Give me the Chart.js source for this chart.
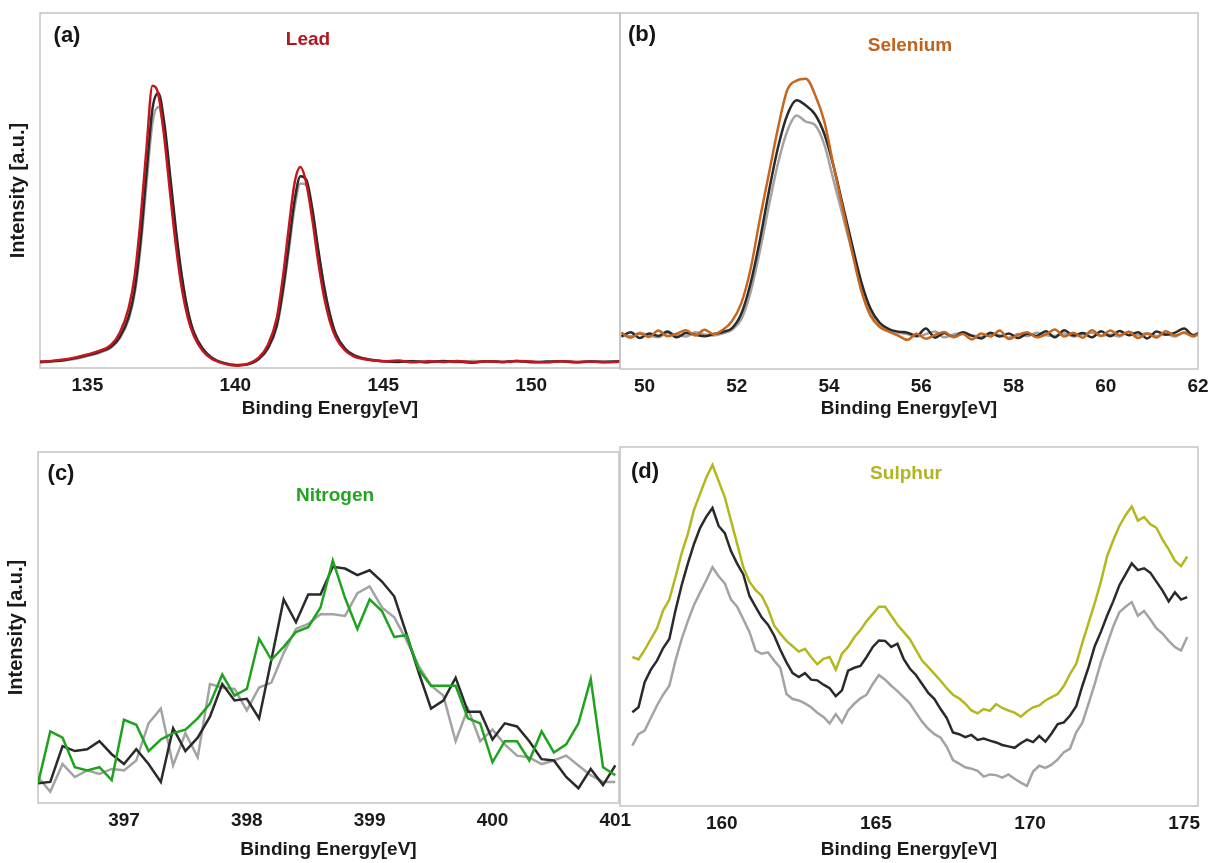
<!DOCTYPE html>
<html lang="en">
<head>
<meta charset="UTF-8">
<title>XPS core-level spectra</title>
<script src="https://cdn.jsdelivr.net/npm/chart.js"></script>
<style>
  html, body { margin: 0; padding: 0; background: #fff; overflow: hidden; }
  body { width: 1210px; height: 863px; position: relative; font-family: "Liberation Sans", Arial, sans-serif; }
  canvas { position: absolute; }
  .lbl { position: absolute; font-weight: bold; transform: translate(-50%, -50%); white-space: nowrap; }
</style>
</head>
<body>
<canvas id="chartA"></canvas>
<canvas id="chartB"></canvas>
<canvas id="chartC"></canvas>
<canvas id="chartD"></canvas>

<div class="lbl" style="left:67px;top:35px;font-size:22px;color:#151515">(a)</div>
<div class="lbl" style="left:308px;top:39px;font-size:19px;color:#b3151d">Lead</div>
<div class="lbl" style="left:642px;top:34px;font-size:22px;color:#151515">(b)</div>
<div class="lbl" style="left:910px;top:45px;font-size:19px;color:#c0621c">Selenium</div>
<div class="lbl" style="left:61px;top:473px;font-size:22px;color:#151515">(c)</div>
<div class="lbl" style="left:335px;top:495px;font-size:19px;color:#22a322">Nitrogen</div>
<div class="lbl" style="left:645px;top:471px;font-size:22px;color:#151515">(d)</div>
<div class="lbl" style="left:906px;top:473px;font-size:19px;color:#b0b622">Sulphur</div>

<script>
// --- (a) Lead ---
const leadX = [133.4, 133.8, 134.2, 134.6, 135.0, 135.4, 135.8, 136.1, 136.4, 136.6,
  136.8, 137.0, 137.2, 137.4, 137.6, 137.8, 138.0, 138.2, 138.4, 138.6,
  138.9, 139.2, 139.6, 140.0, 140.4, 140.8, 141.1, 141.4, 141.6, 141.8,
  142.0, 142.2, 142.4, 142.6, 142.8, 143.0, 143.2, 143.4, 143.7, 144.0,
  144.5, 145.0, 145.5, 146.0, 146.5, 147.0, 147.5, 148.0, 148.5, 149.0,
  149.5, 150.0, 150.5, 151.0, 151.5, 152.0, 152.5, 153.0];
const leadRed = [1.8, 2.0, 2.4, 3.0, 3.8, 4.8, 6.5, 10, 17, 26,
  42, 62, 79.5, 77, 65, 49, 34, 22, 14, 9,
  4.8, 2.6, 1.3, 0.7, 1.1, 3.0, 6.5, 14, 25, 39,
  52, 56.6, 52, 42, 30, 20, 13, 8.5, 5, 3.3,
  2.3, 1.9, 2.1, 1.6, 1.9, 1.7, 2.0, 1.6, 1.9, 1.7,
  2.0, 1.8, 1.6, 1.9, 1.7, 1.8, 1.6, 1.8];
const leadBlack = [1.7, 1.9, 2.2, 2.8, 3.6, 4.5, 6.0, 8.8, 14.5, 22,
  36, 55, 73, 77.5, 69, 54, 38.5, 25.5, 16, 10,
  5.4, 2.9, 1.4, 0.8, 1.0, 2.6, 5.6, 12, 21.5, 34,
  47, 54, 53, 45, 33.5, 23, 15, 9.5, 5.5, 3.6,
  2.4, 1.9, 1.7, 1.9, 1.6, 2.0, 1.8, 1.5, 1.9, 1.7,
  2.0, 1.6, 1.8, 1.9, 1.6, 1.8, 1.7, 1.9];
const leadGrey = [1.6, 1.8, 2.1, 2.6, 3.4, 4.3, 5.7, 8.4, 13.8, 21,
  34, 52, 69, 73.5, 66, 52, 37.5, 25, 16, 10,
  5.5, 3.0, 1.5, 0.9, 1.1, 2.5, 5.4, 11.5, 20.5, 32.5,
  45, 52, 51.5, 44, 33, 23, 15, 9.5, 5.6, 3.7,
  2.5, 2.0, 1.8, 2.0, 1.7, 1.9, 1.6, 2.0, 1.8, 1.7,
  1.9, 1.8, 1.6, 1.9, 1.7, 1.8, 1.9, 1.7];

// --- (b) Selenium ---
const seX = [49.5, 49.7, 49.9, 50.1, 50.3, 50.5, 50.7, 50.9, 51.1, 51.3,
  51.5, 51.7, 51.9, 52.1, 52.3, 52.5, 52.7, 52.9, 53.1, 53.3,
  53.5, 53.7, 53.9, 54.1, 54.3, 54.5, 54.7, 54.9, 55.1, 55.3,
  55.5, 55.7, 55.9, 56.1, 56.3, 56.5, 56.7, 56.9, 57.1, 57.3,
  57.5, 57.7, 57.9, 58.1, 58.3, 58.5, 58.7, 58.9, 59.1, 59.3,
  59.5, 59.7, 59.9, 60.1, 60.3, 60.5, 60.7, 60.9, 61.1, 61.3,
  61.5, 61.7, 61.9, 62.0];
const seOrange = [10.2, 8.8, 10.0, 9.0, 10.8, 9.2, 9.9, 10.9, 9.4, 11.0,
  9.8, 11, 13.5, 18.5, 28, 42, 55, 68, 78.5, 81,
  81.5, 77, 69.5, 57, 45, 33, 22, 15, 11.8, 10.5,
  9.4, 8.2, 9.9, 8.5, 9.6, 10.4, 8.9, 9.8, 8.3, 10.0,
  9.1, 10.8, 8.4, 9.6, 10.3, 8.9, 9.7, 11.1, 9.1, 10.2,
  8.8, 10.9, 9.3, 10.8, 9.5, 10.4, 8.7, 9.9, 8.8, 10.6,
  9.4, 10.2, 9.1, 9.8];
const seBlack = [9.1, 10.3, 8.7, 10.0, 9.3, 10.5, 8.9, 10.1, 9.6, 9.2,
  9.8, 10.4, 11.5, 15.5, 24, 36, 50, 62.5, 71.5, 75.5,
  74, 71.5, 66, 57, 46, 35, 24.5, 17, 13, 11.2,
  10.5, 10.2, 9.3, 11.4, 8.8, 10.1, 9.0, 10.3, 9.3, 8.6,
  10.2, 9.1, 10.0, 8.7, 9.9, 9.3, 10.6, 8.9, 10.9, 9.4,
  10.1, 8.9, 10.6, 9.2, 10.7, 9.5, 10.3, 8.6, 10.5, 9.6,
  10.2, 11.4, 9.4, 10.1];
const seGrey = [9.6, 9.2, 10.2, 9.5, 8.9, 10.1, 9.6, 9.1, 10.3, 9.7,
  9.4, 10.0, 11.0, 14, 21.5, 33, 46, 58, 67, 71.2,
  69.5, 68.5, 63, 53, 43, 33, 23.5, 16, 12.5, 10.8,
  10.2, 9.8, 9.1, 9.8, 10.5, 8.9, 9.7, 10.2, 9.5, 9.0,
  9.9, 9.5, 8.8, 9.8, 9.2, 10.2, 9.5, 9.3, 10.0, 9.1,
  9.7, 10.2, 9.3, 9.7, 9.1, 10.5, 9.5, 10.1, 9.3, 9.9,
  9.1, 10.3, 9.6, 9.8];

// --- (c) Nitrogen ---
const nX = [396.3, 396.4, 396.5, 396.6, 396.7, 396.8, 396.9, 397.0, 397.1, 397.2,
  397.3, 397.4, 397.5, 397.6, 397.7, 397.8, 397.9, 398.0, 398.1, 398.2,
  398.3, 398.4, 398.5, 398.6, 398.7, 398.8, 398.9, 399.0, 399.1, 399.2,
  399.3, 399.4, 399.5, 399.6, 399.7, 399.8, 399.9, 400.0, 400.1, 400.2,
  400.3, 400.4, 400.5, 400.6, 400.7, 400.8, 400.9, 401.0];
const nGreen = [5.6, 20.4, 18.6, 10.2, 9.3, 10.2, 6.5, 23.7, 22.3, 14.8,
  18.1, 19.9, 20.9, 24.1, 28.3, 36.6, 30.6, 32.5, 46.8, 40.8,
  44.5, 48.7, 50.1, 55.7, 69.1, 58.4, 49.6, 58.0, 54.7, 47.3,
  47.8, 38.0, 33.4, 33.4, 33.4, 24.1, 22.7, 11.6, 17.6, 17.6,
  12.1, 20.4, 14.4, 16.7, 22.7, 35.3, 10.2, 7.9];
const nBlack = [5.6, 6.0, 16.2, 14.8, 15.3, 17.6, 13.9, 11.1, 15.3, 11.1,
  6.0, 21.3, 14.8, 18.6, 24.6, 33.9, 29.2, 29.7, 24.1, 40.8,
  58.0, 51.5, 59.4, 59.4, 67.3, 66.8, 64.9, 66.3, 63.1, 58.9,
  48.2, 37.1, 26.9, 29.2, 35.7, 26.0, 26.0, 18.1, 22.7, 21.8,
  17.6, 12.5, 12.1, 7.4, 4.2, 9.7, 5.1, 10.7];
const nGrey = [7.4, 3.2, 11.1, 7.4, 9.3, 8.3, 9.7, 9.3, 12.1, 22.7,
  26.9, 10.7, 19.9, 13.0, 33.9, 32.9, 32.5, 26.4, 32.9, 34.3,
  42.7, 49.6, 51.0, 53.8, 53.8, 53.3, 59.8, 61.7, 55.7, 52.9,
  46.4, 39.0, 33.4, 30.6, 17.6, 26.9, 17.6, 20.9, 16.7, 13.5,
  13.0, 11.1, 12.1, 13.5, 10.7, 7.9, 6.0, 6.0];

// --- (d) Sulphur ---
const sX = [157.1, 157.3, 157.5, 157.7, 157.9, 158.1, 158.3, 158.5, 158.7, 158.9,
  159.1, 159.3, 159.5, 159.7, 159.9, 160.1, 160.3, 160.5, 160.7, 160.9,
  161.1, 161.3, 161.5, 161.7, 161.9, 162.1, 162.3, 162.5, 162.7, 162.9,
  163.1, 163.3, 163.5, 163.7, 163.9, 164.1, 164.3, 164.5, 164.7, 164.9,
  165.1, 165.3, 165.5, 165.7, 165.9, 166.1, 166.3, 166.5, 166.7, 166.9,
  167.1, 167.3, 167.5, 167.7, 167.9, 168.1, 168.3, 168.5, 168.7, 168.9,
  169.1, 169.3, 169.5, 169.7, 169.9, 170.1, 170.3, 170.5, 170.7, 170.9,
  171.1, 171.3, 171.5, 171.7, 171.9, 172.1, 172.3, 172.5, 172.7, 172.9,
  173.1, 173.3, 173.5, 173.7, 173.9, 174.1, 174.3, 174.5, 174.7, 174.9,
  175.1];
const sYellow = [41.5, 40.8, 43.5, 46.5, 49.5, 54.5, 57.5, 63.8, 70.4, 75.8,
  82.5, 87, 91.5, 95, 90.5, 86, 79.5, 73, 66.5, 62.5,
  60.1, 58.5, 55, 50.3, 48, 46, 44.5, 43, 43.8, 41.5,
  39.5, 41, 41.5, 38, 42.4, 44.3, 47, 49, 51.5, 53.5,
  55.5, 55.5, 53, 50.5, 48.5, 46.5, 43.5, 40.5, 38.7, 36.8,
  34.9, 32.8, 31, 30, 28.5, 26.6, 25.8, 27, 26.5, 28.4,
  27.3, 26.6, 26, 24.9, 26.3, 27.5, 28, 29.4, 30.3, 31.2,
  33.5, 36.8, 39.6, 45.5, 51, 56.5, 62.5, 69.5, 74, 78,
  81, 83.4, 79.5, 80.5, 78.5, 77.5, 74.2, 71.5, 68.3, 66.8,
  69.5];
const sBlack = [26.1, 27.5, 34.5, 38, 40.5, 44, 46.5, 54.5, 61.5, 67.5,
  73, 77.5, 80.6, 83, 78, 76, 71, 67.5, 64.5, 58.5,
  55.5, 52.5, 50.5, 47.5, 43.5, 40, 37, 35.9, 37, 35.2,
  35, 33.8, 32.8, 30.6, 32.2, 37.7, 38.5, 39, 41.5, 44.3,
  46.1, 46, 44.3, 45.2, 41, 38.3, 36.5, 34, 31.5, 29.8,
  27, 24.5, 20.5, 20, 19.2, 19.8, 18.4, 18.8, 18.2, 17.7,
  17, 16.6, 16.2, 17.5, 18.5, 17.8, 19.5, 17.9, 20.2, 22.8,
  23.3, 25.2, 27.8, 33.5, 38.7, 44.5, 48.5, 53, 57, 61.5,
  64.5, 67.6, 65.7, 66.2, 65, 62.5, 60, 57, 59.5, 57.5,
  58.2];
const sGrey = [16.8, 20, 21, 24.5, 28, 31, 33.5, 40.5, 46.5, 51.5,
  56, 59.5, 62.9, 66.5, 64, 62, 57.5, 55.5, 52, 48.5,
  43.3, 42.4, 42.8, 40.5, 38.5, 31.2, 29.8, 29.4, 28.6, 27.5,
  26, 24.8, 23, 25.6, 23.2, 26.6, 28.5, 30, 31, 34,
  36.5, 35.2, 33.5, 32, 30.3, 28.6, 26, 23.5, 21.5, 20,
  19, 16.5, 12.8, 11.8, 10.8, 10.4, 9.8, 8.2, 8.8, 8.6,
  7.9, 8.8, 7.6, 6.5, 5.6, 9.6, 11.2, 10.6, 11.5, 13,
  15, 16, 20.5, 23.2, 28.5, 34, 40, 45, 50, 54,
  55.5, 56.8, 53, 54.3, 52, 49.5, 48, 46, 44.3, 43.3,
  47.1];

const FONT = "'Liberation Sans', Arial, sans-serif";
Chart.defaults.font.family = FONT;
Chart.defaults.color = '#1a1a1a';

// thin grey frame around each plot area
const framePlugin = {
  id: 'frame',
  beforeDatasetsDraw(chart) {
    const { ctx, chartArea: a } = chart;
    ctx.save();
    ctx.strokeStyle = '#c4c4c4';
    ctx.lineWidth = 1.5;
    ctx.strokeRect(a.left, a.top, a.right - a.left, a.bottom - a.top);
    ctx.restore();
  }
};

function panel(id, box, xs, sets, xMin, xMax, step, yTitle, smooth, xH) {
  const padTop = 10, padRight = 30, yW = 40;
  const cv = document.getElementById(id);
  cv.style.left = (box.l - yW) + 'px';
  cv.style.top = (box.t - padTop) + 'px';
  cv.width = box.r - box.l + yW + padRight;
  cv.height = box.b - box.t + padTop + xH;

  new Chart(cv, {
    type: 'line',
    data: {
      datasets: sets.map(s => ({
        data: xs.map((x, i) => ({ x: x, y: s.values[i] })),
        borderColor: s.color,
        borderWidth: 2.5,
        pointRadius: 0,
        fill: false,
        tension: 0,
        cubicInterpolationMode: smooth ? 'monotone' : 'default'
      }))
    },
    options: {
      responsive: false,
      animation: false,
      devicePixelRatio: 1,
      layout: { padding: { top: padTop, right: padRight, left: 0, bottom: 0 } },
      plugins: { legend: { display: false }, tooltip: { enabled: false } },
      scales: {
        x: {
          type: 'linear', min: xMin, max: xMax,
          grid: { display: false, drawTicks: false },
          border: { display: false },
          ticks: { stepSize: step, includeBounds: false, padding: 6, maxRotation: 0, autoSkip: false,
                   font: { size: 19, weight: 'bold' }, color: '#1a1a1a' },
          title: { display: true, text: 'Binding Energy[eV]', color: '#1a1a1a',
                   font: { size: 19, weight: 'bold' }, padding: { top: 0, bottom: 0 } },
          afterFit: s => { s.height = xH; }
        },
        y: {
          min: 0, max: 100,
          grid: { display: false, drawTicks: false },
          border: { display: false },
          ticks: { display: false },
          title: { display: !!yTitle, text: yTitle || '', color: '#1a1a1a',
                   font: { size: 20, weight: 'bold' }, padding: { top: 6, bottom: 0 } },
          afterFit: s => { s.width = yW; }
        }
      }
    },
    plugins: [framePlugin]
  });
}

panel('chartA', { l: 40, t: 13, r: 620, b: 368 }, leadX, [
  { values: leadRed, color: '#c4161c' },
  { values: leadBlack, color: '#2a2a2a' },
  { values: leadGrey, color: '#a3a3a3' }
], 133.4, 153.0, 5, 'Intensity [a.u.]', true, 52);

panel('chartB', { l: 620, t: 13, r: 1198, b: 369 }, seX, [
  { values: seOrange, color: '#c8661c' },
  { values: seBlack, color: '#2a2a2a' },
  { values: seGrey, color: '#a3a3a3' }
], 49.47, 62.0, 2, null, true, 51);

panel('chartC', { l: 38, t: 452, r: 619, b: 803 }, nX, [
  { values: nGreen, color: '#1fa31f' },
  { values: nBlack, color: '#2a2a2a' },
  { values: nGrey, color: '#a3a3a3' }
], 396.3, 401.03, 1, 'Intensity [a.u.]', false, 58);

panel('chartD', { l: 620, t: 447, r: 1198, b: 806 }, sX, [
  { values: sYellow, color: '#b3b81f' },
  { values: sBlack, color: '#2a2a2a' },
  { values: sGrey, color: '#a3a3a3' }
], 156.7, 175.45, 5, null, false, 55);
</script>
</body>
</html>
